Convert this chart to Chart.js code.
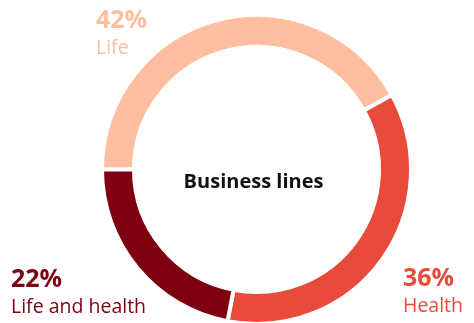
<!DOCTYPE html>
<html>
<head>
<meta charset="utf-8">
<script src="https://cdn.jsdelivr.net/npm/chart.js@4"></script>
<style>
  html, body { margin: 0; padding: 0; background: #fff; }
  #wrap { width: 474px; height: 323px; position: relative; }
</style>
</head>
<body>
<div id="wrap"><canvas id="chart" width="474" height="323"></canvas></div>
<script>
// Business lines split
const categories = ['Life', 'Health', 'Life and health'];
const shares = [42, 36, 22];
const sliceColors = ['#ffbe9f', '#e84b3a', '#7e0011'];
const centerTitle = 'Business lines';

const FONT = '"Open Sans", sans-serif';

// outside labels: percentage + name, placed next to each slice
const labelPos = [
    { x: 96, y: 28 },
    { x: 403, y: 286 },
    { x: 11, y: 287 }
];

const labelsPlugin = {
    id: 'sliceLabels',
    afterDraw(chart) {
        const ctx = chart.ctx;
        const meta = chart.getDatasetMeta(0);
        ctx.save();
        ctx.textAlign = 'left';
        ctx.textBaseline = 'alphabetic';
        categories.forEach((name, i) => {
            const p = labelPos[i];
            ctx.fillStyle = sliceColors[i];
            ctx.font = 'bold 25px ' + FONT;
            ctx.fillText(shares[i] + '%', p.x, p.y);
            ctx.font = '19.5px ' + FONT;
            ctx.fillText(name, p.x, p.y + 26);
        });
        // centre title
        const arc = meta.data[0];
        ctx.fillStyle = '#111';
        ctx.textAlign = 'center';
        ctx.font = 'bold 20px ' + FONT;
        ctx.fillText(centerTitle, arc.x - 3, arc.y + 18);
        ctx.restore();
    }
};

const ctx = document.getElementById('chart').getContext('2d');
const chart = new Chart(ctx, {
    type: 'doughnut',
    data: {
        labels: categories,
        datasets: [{
            data: shares,
            backgroundColor: sliceColors,
            borderColor: '#ffffff',
            borderWidth: 4,
            hoverOffset: 0
        }]
    },
    options: {
        responsive: false,
        animation: false,
        rotation: -90,
        radius: 154.5,
        cutout: '79.3%',
        layout: { padding: { top: 16, bottom: 0, left: 39, right: 0 } },
        plugins: {
            legend: { display: false },
            tooltip: { enabled: false }
        }
    },
    plugins: [labelsPlugin]
});
</script>
</body>
</html>
